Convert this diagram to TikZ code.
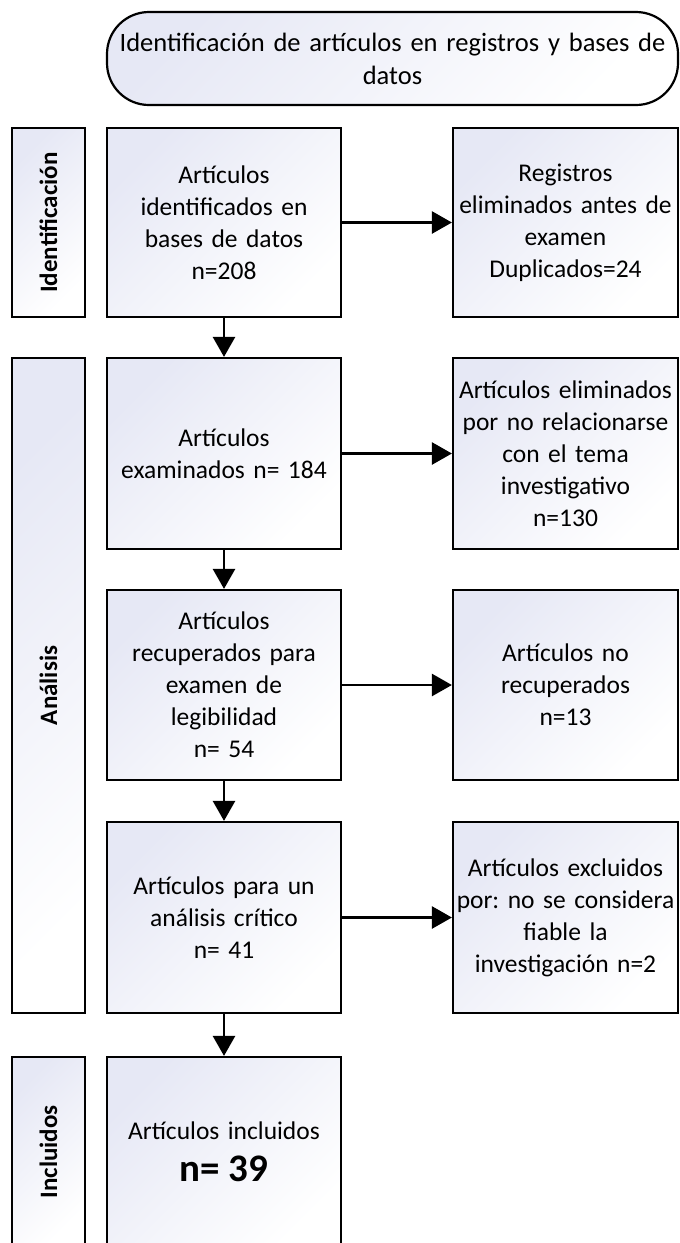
\documentclass[tikz,border=0pt]{standalone}
\usepackage{fontspec}
\setmainfont{Carlito}
\usetikzlibrary{arrows.meta,positioning}
\definecolor{boxtint}{HTML}{E6E8F5}
\frenchspacing
\tikzset{
  boxfill/.style={top color=boxtint, middle color=boxtint!12!white, bottom color=white, shading angle=45},
  boxtext/.style={font=\fontsize{25.5}{32}\selectfont},
  mainbox/.style={draw=black, line width=2.2pt, boxfill, minimum width=234pt, text width=230pt, align=center, boxtext, inner sep=0pt},
  sidebox/.style={draw=black, line width=2.2pt, boxfill, minimum width=225pt, text width=225pt, align=center, boxtext, inner sep=0pt},
  phasebox/.style={draw=black, line width=2.2pt, boxfill, minimum width=73pt, inner sep=0pt},
  phaselabel/.style={rotate=90, font=\fontsize{25}{28}\selectfont\bfseries},
  flow/.style={line width=2.6pt, -{Triangle[length=20pt,width=22pt]}}
}
\begin{document}
\begin{tikzpicture}[x=1pt,y=1pt]
\useasboundingbox[fill=white] (0,0) rectangle (680,-1243);
% top terminal
\node[draw=black, line width=2.2pt, boxfill, rounded corners=42pt, minimum width=571pt, minimum height=93pt, text width=565pt, align=center, font=\fontsize{26.5}{33}\selectfont, inner sep=0pt] (top) at (392.5,-58.5) {Identificación de artículos en registros y bases de\\datos};
% phase boxes
\node[phasebox, minimum height=189pt] (pid) at (48.5,-222.5) {};
\node[phaselabel] (lid) at (pid.center) {Identificación};
\node[phasebox, minimum height=655pt] (pan) at (48.5,-685.5) {};
\node[phaselabel] (lan) at (pan.center) {Análisis};
\node[phasebox, minimum height=190pt] (pin) at (48.5,-1152) {};
\node[phaselabel] (lin) at (pin.center) {Incluidos};
% main column
\node[mainbox, minimum height=189pt] (m1) at (224,-222.5) {Artículos\\identificados en\\bases de datos\\n=208};
\node[mainbox, minimum height=191pt] (m2) at (224,-453.5) {Artículos\\examinados n= 184};
\node[mainbox, minimum height=190pt] (m3) at (224,-685) {Artículos\\recuperados para\\examen de\\legibilidad\\n= 54};
\node[mainbox, minimum height=191pt] (m4) at (224,-917.5) {Artículos para un\\análisis crítico\\n= 41};
\node[mainbox, minimum height=190pt] (m5) at (224,-1152) {Artículos incluidos\\[10pt]{\fontsize{39}{40}\selectfont\bfseries n= 39}};
% side column
\node[sidebox, minimum height=189pt] (s1) at (565.5,-222.5) {Registros\\eliminados antes de\\examen\\Duplicados=24};
\node[sidebox, minimum height=191pt] (s2) at (565.5,-453.5) {Artículos eliminados\\por no relacionarse\\con el tema\\investigativo\\n=130};
\node[sidebox, minimum height=190pt] (s3) at (565.5,-685) {Artículos no\\recuperados\\n=13};
\node[sidebox, minimum height=191pt] (s4) at (565.5,-917.5) {Artículos excluidos\\por: no se considera\\fiable la\\investigación n=2};
% connectors
\draw[flow] (m1) -- (m2);
\draw[flow] (m2) -- (m3);
\draw[flow] (m3) -- (m4);
\draw[flow] (m4) -- (m5);
\draw[flow] (m1) -- (s1);
\draw[flow] (m2) -- (s2);
\draw[flow] (m3) -- (s3);
\draw[flow] (m4) -- (s4);
\end{tikzpicture}
\end{document}
